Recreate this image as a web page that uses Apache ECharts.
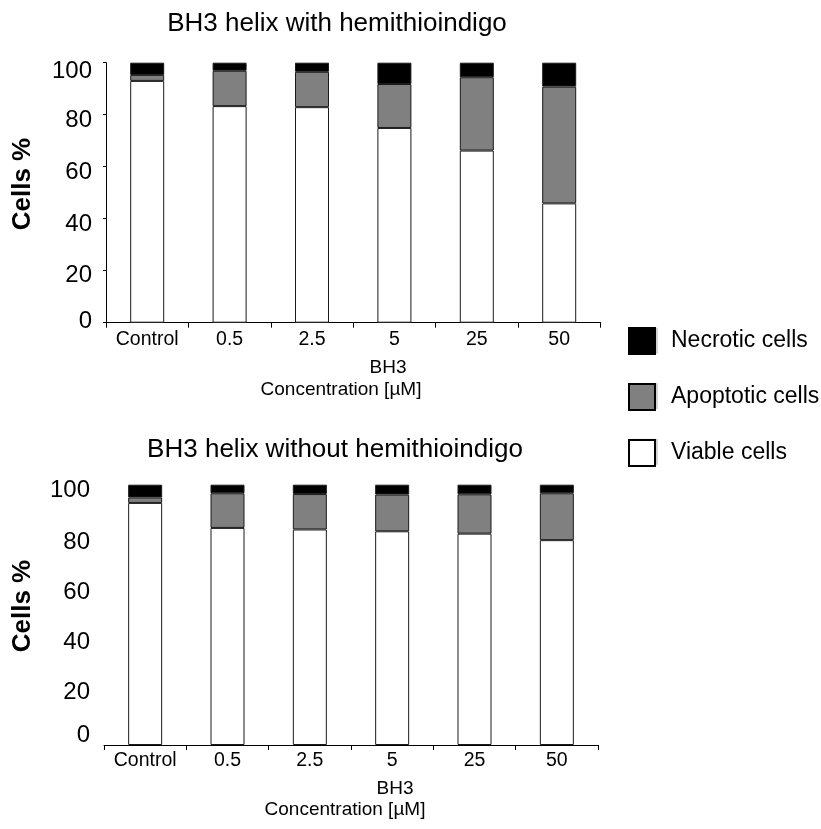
<!DOCTYPE html>
<html>
<head>
<meta charset="utf-8">
<script src="https://cdn.jsdelivr.net/npm/echarts@6/dist/echarts.min.js"></script>
<style>html,body{margin:0;padding:0;background:#fff;}#c{width:821px;height:829px;}</style>
</head>
<body>
<div id="c"></div>
<script>
// ---- data ----
const categories = ['Control', '0.5', '2.5', '5', '25', '50'];
const withViable = [93.0, 83.3, 82.9, 74.9, 66.2, 45.9];
const withApoptotic = [2.3, 13.6, 13.6, 16.9, 28.2, 44.9];
const withNecrotic = [4.7, 3.1, 3.5, 8.2, 5.6, 9.2];
const withoutViable = [93.0, 83.4, 82.8, 82.1, 81.2, 78.7];
const withoutApoptotic = [2.1, 13.3, 13.6, 14.1, 15.1, 18.0];
const withoutNecrotic = [4.9, 3.3, 3.6, 3.8, 3.7, 3.3];
const yTicks = [0, 20, 40, 60, 80, 100];
const seriesNames = ['Necrotic cells', 'Apoptotic cells', 'Viable cells'];
const titleWith = 'BH3 helix with hemithioindigo';
const titleWithout = 'BH3 helix without hemithioindigo';
const xName1 = 'BH3';
const xName2 = 'Concentration [µM]';
const yName = 'Cells %';

// ---- styling ----
const FONT = '"Liberation Sans", Arial, Helvetica, sans-serif';
const COLORS = { 'Necrotic cells': '#000000', 'Apoptotic cells': '#808080', 'Viable cells': '#ffffff' };
// vertical nudges of the y tick labels (px), per chart
const shiftTop = { 0: -1.7, 20: 5, 40: 5.3, 60: 5.3, 80: 5.3, 100: 9 };
const shiftBot = { 0: -9.3, 20: -0.4, 40: 1.7, 60: 3.7, 80: 5.8, 100: 5.3 };

function richFor(shifts) {
  const rich = {};
  yTicks.forEach(v => {
    const s = shifts[v] || 0;
    rich['v' + v] = {
      fontSize: 24, fontFamily: FONT, color: '#000',
      padding: s >= 0 ? [2 * s, 0, 0, 0] : [0, 0, -2 * s, 0]
    };
  });
  return rich;
}

function yAxisFor(gridIndex, shifts, showLine) {
  return {
    type: 'value', gridIndex: gridIndex, min: 0, max: 100, interval: 20,
    splitLine: { show: false },
    axisLine: { show: showLine, lineStyle: { color: '#000', width: 1 } },
    axisTick: { show: showLine, length: 3, lineStyle: { color: '#000' } },
    axisLabel: {
      margin: 14, fontSize: 24, fontFamily: FONT, color: '#000',
      formatter: v => '{v' + v + '|' + v + '}',
      rich: richFor(shifts)
    }
  };
}

function xAxisFor(gridIndex, margin) {
  return {
    type: 'category', gridIndex: gridIndex, data: categories,
    axisLine: { show: true, lineStyle: { color: '#000', width: 1 } },
    axisTick: { show: true, length: 5, interval: 0, lineStyle: { color: '#000' } },
    axisLabel: { margin: margin, fontSize: 19.5, fontFamily: FONT, color: '#000', interval: 0 }
  };
}

function barSeries(name, data, axisIndex) {
  return {
    name: name, type: 'bar', stack: 'cells' + axisIndex,
    xAxisIndex: axisIndex, yAxisIndex: axisIndex,
    data: data, barWidth: 34,
    itemStyle: { color: COLORS[name], borderColor: '#1a1a1a', borderWidth: 1 },
    emphasis: { disabled: true }
  };
}

const titleStyle = { fontSize: 26, fontWeight: 'normal', fontFamily: FONT, color: '#000' };
const subStyle = { fontSize: 19, fontWeight: 'normal', fontFamily: FONT, color: '#000' };

// legend layout
const LEG_LEFT = 628, LEG_TOP = 327, LEG_SIZE = 26, LEG_GAP = 28, LEG_ROW = 55.5, LEG_OFF = 0.75;

const legendShadows = seriesNames.map((n, i) => ({
  type: 'rect', z: -1, silent: true,
  shape: { x: LEG_LEFT + 4, y: LEG_TOP + LEG_OFF + i * LEG_ROW, width: LEG_SIZE, height: LEG_SIZE },
  style: { fill: '#d4d4d4' }
}));

const option = {
  animation: false,
  backgroundColor: '#fff',
  title: [
    { text: titleWith, left: 337, top: 11, textAlign: 'center', padding: 0, textStyle: titleStyle },
    { text: titleWithout, left: 335, top: 437, textAlign: 'center', padding: 0, textStyle: titleStyle },
    { text: xName1, left: 388, top: 358.5, textAlign: 'center', padding: 0, textStyle: subStyle },
    { text: xName2, left: 341, top: 380.5, textAlign: 'center', padding: 0, textStyle: subStyle },
    { text: xName1, left: 395, top: 779, textAlign: 'center', padding: 0, textStyle: subStyle },
    { text: xName2, left: 345, top: 800.5, textAlign: 'center', padding: 0, textStyle: subStyle }
  ],
  legend: {
    orient: 'vertical', left: LEG_LEFT, top: LEG_TOP, padding: 0,
    data: seriesNames,
    itemWidth: LEG_SIZE, itemHeight: LEG_SIZE, itemGap: LEG_GAP,
    icon: 'rect',
    itemStyle: { borderColor: '#000', borderWidth: 2 },
    textStyle: { fontSize: 23, lineHeight: 26, fontFamily: FONT, color: '#000', padding: [0, 0, 0, 11] },
    selectedMode: false
  },
  grid: [
    { left: 106, top: 62.7, width: 494.4, height: 260 },
    { left: 104, top: 484.7, width: 494, height: 260.3 }
  ],
  xAxis: [xAxisFor(0, 7), xAxisFor(1, 6)],
  yAxis: [yAxisFor(0, shiftTop, true), yAxisFor(1, shiftBot, false)],
  graphic: [
    { type: 'text', x: 23, y: 184, rotation: Math.PI / 2,
      style: { text: yName, font: 'bold 26px ' + FONT, fill: '#000', textAlign: 'center', textVerticalAlign: 'middle' } },
    { type: 'text', x: 23, y: 606, rotation: Math.PI / 2,
      style: { text: yName, font: 'bold 26px ' + FONT, fill: '#000', textAlign: 'center', textVerticalAlign: 'middle' } }
  ].concat(legendShadows),
  series: [
    barSeries('Viable cells', withViable, 0),
    barSeries('Apoptotic cells', withApoptotic, 0),
    barSeries('Necrotic cells', withNecrotic, 0),
    barSeries('Viable cells', withoutViable, 1),
    barSeries('Apoptotic cells', withoutApoptotic, 1),
    barSeries('Necrotic cells', withoutNecrotic, 1)
  ]
};

const chart = echarts.init(document.getElementById('c'), null, { renderer: 'canvas' });
chart.setOption(option);
</script>
</body>
</html>
